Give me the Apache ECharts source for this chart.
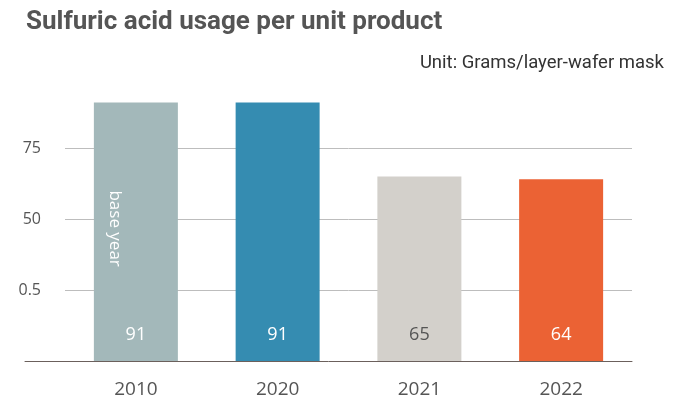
<!DOCTYPE html>
<html>
<head>
<meta charset="utf-8">
<script src="https://cdn.jsdelivr.net/npm/echarts@6/dist/echarts.min.js"></script>
<style>
  html, body { margin: 0; padding: 0; background: #fff; }
  #chart { width: 687px; height: 400px; }
</style>
</head>
<body>
<div id="chart"></div>
<script>
// Sulfuric acid usage per unit product, by year
const years = ['2010', '2020', '2021', '2022'];
const usage = [91, 91, 65, 64];
const barColors = ['#a3b8ba', '#358cb1', '#d3d0cb', '#eb6234'];
const valueLabelColors = ['#ffffff', '#ffffff', '#555555', '#ffffff'];
const tickValues = [25, 50, 75];
const tickLabels = ['0.5', '50', '75'];

const chart = echarts.init(document.getElementById('chart'));

const grid = { left: 65, right: 55, top: 77, bottom: 39 };

chart.setOption({
  animation: false,
  title: [
    {
      text: 'Sulfuric acid usage per unit product',
      left: 21, top: 4,
      textStyle: { fontFamily: 'Roboto', fontWeight: 'bold', fontSize: 26, color: '#555555' }
    },
    {
      text: 'Unit: Grams/layer-wafer mask',
      right: 18, top: 49,
      textStyle: { fontFamily: 'Roboto', fontWeight: 'normal', fontSize: 18.5, color: '#333333' }
    }
  ],
  grid: [
    grid,
    { left: 25, right: grid.right, top: grid.top, bottom: grid.bottom }
  ],
  xAxis: [
    {
      type: 'category',
      gridIndex: 0,
      data: years,
      axisLine: { show: false },
      axisTick: { show: false },
      axisLabel: { color: '#555555', fontSize: 19, fontFamily: 'Open Sans', margin: 19 }
    },
    {
      // baseline running the full width under the bars
      type: 'category',
      gridIndex: 1,
      data: years,
      axisLine: { show: true, lineStyle: { color: '#6b605c', width: 1 } },
      axisTick: { show: false },
      axisLabel: { show: false }
    }
  ],
  yAxis: [
    {
      type: 'value',
      gridIndex: 0,
      min: 0, max: 100, interval: 25,
      axisLine: { show: false },
      axisTick: { show: false },
      axisLabel: {
        showMaxLabel: false,
        color: '#555555', fontSize: 16, fontFamily: 'Open Sans', margin: 24,
        formatter: v => {
          const i = tickValues.indexOf(v);
          return i >= 0 ? tickLabels[i] : '';
        }
      },
      splitLine: { showMinLine: false, showMaxLine: false, lineStyle: { color: '#bdbdbd', width: 1 } }
    },
    {
      type: 'value',
      gridIndex: 1,
      min: 0, max: 100,
      show: false
    }
  ],
  series: [
    {
      type: 'bar',
      xAxisIndex: 0, yAxisIndex: 0,
      barWidth: 84,
      data: usage.map((v, i) => ({
        value: v,
        itemStyle: { color: barColors[i] },
        label: { color: valueLabelColors[i] }
      })),
      label: {
        show: true,
        position: 'insideBottom',
        distance: 17,
        fontSize: 18,
        fontFamily: 'Open Sans'
      }
    },
    {
      // transparent twin that carries the vertical "base year" note
      type: 'bar',
      xAxisIndex: 0, yAxisIndex: 0,
      barWidth: 84,
      barGap: '-100%',
      silent: true,
      data: usage,
      itemStyle: { color: 'rgba(0,0,0,0)' },
      label: {
        show: true,
        position: ['25%', '34%'],
        rotate: -90,
        align: 'left',
        verticalAlign: 'middle',
        color: '#ffffff',
        fontSize: 17,
        fontFamily: 'Open Sans',
        formatter: p => (p.dataIndex === 0 ? 'base year' : '')
      }
    }
  ]
});
</script>
</body>
</html>
